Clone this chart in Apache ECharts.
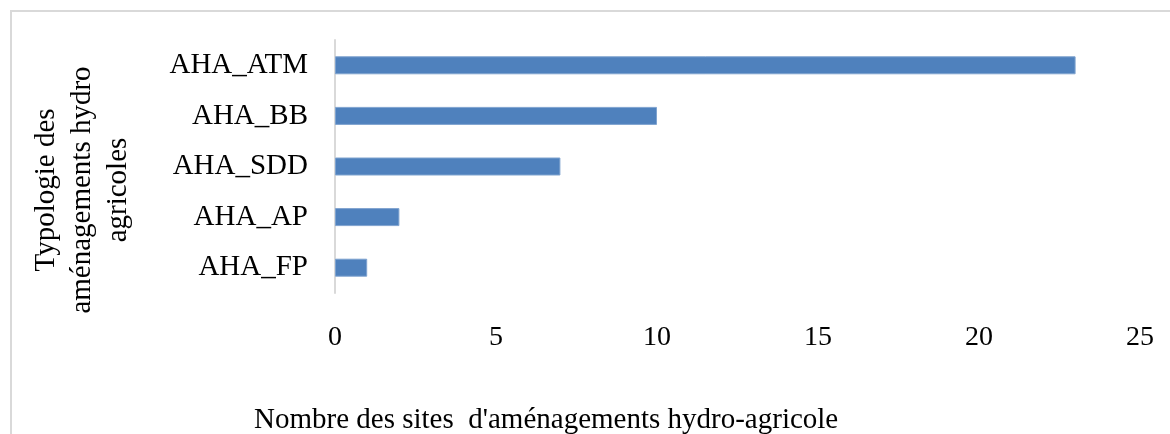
<html lang="fr">
<head>
    <meta http-equiv="Content-Type" content="text/html; charset=utf-8" />
    <title>Typologie des aménagements hydro agricoles</title>
    <script src="https://cdn.jsdelivr.net/npm/echarts@6/dist/echarts.min.js"></script>
</head>
<body style="padding:0px;margin:0px;overflow:hidden;background:#fff;">

<div id="main" style="width:1170px;height:434px;"></div>

<script type="text/javascript">
    // donnees
    var categories = ['AHA_FP', 'AHA_AP', 'AHA_SDD', 'AHA_BB', 'AHA_ATM'];
    var nbSites = [1, 2, 7, 10, 23];
    var xTicks = [0, 5, 10, 15, 20, 25];

    var police = 'Liberation Serif, Times New Roman, serif';

    var myChart = echarts.init(document.getElementById('main'));

    var option = {
        backgroundColor: '#fff',
        animation: false,
        grid: {
            left: 335,
            right: 30,
            top: 40,
            bottom: 141
        },
        xAxis: {
            type: 'value',
            min: xTicks[0],
            max: xTicks[xTicks.length - 1],
            interval: xTicks[1] - xTicks[0],
            axisLine: {show: false},
            axisTick: {show: false},
            splitLine: {show: false},
            axisLabel: {
                margin: 31,
                color: '#000',
                fontFamily: police,
                fontSize: 28
            }
        },
        yAxis: {
            type: 'category',
            data: categories,
            axisLine: {show: true, lineStyle: {color: '#d9d9d9', width: 2}},
            axisTick: {show: false},
            axisLabel: {
                margin: 27,
                color: '#000',
                fontFamily: police,
                fontSize: 29
            }
        },
        series: [
            {
                name: 'Nombre des sites',
                type: 'bar',
                data: nbSites,
                barWidth: 18,
                itemStyle: {
                    color: '#4f81bd',
                    borderColor: '#7fa3cf',
                    borderWidth: 1
                }
            }
        ],
        graphic: [
            {
                type: 'rect',
                silent: true,
                shape: {x: 11, y: 11, width: 1300, height: 600},
                style: {fill: 'none', stroke: '#d9d9d9', lineWidth: 2}
            },
            {
                type: 'text',
                x: 82,
                y: 190,
                rotation: Math.PI / 2,
                style: {
                    text: 'Typologie des\naménagements hydro\nagricoles',
                    align: 'center',
                    verticalAlign: 'middle',
                    lineHeight: 36,
                    fill: '#000',
                    font: '29px ' + police
                }
            },
            {
                type: 'text',
                x: 254,
                y: 420,
                style: {
                    text: "Nombre des sites  d'aménagements hydro-agricole",
                    align: 'left',
                    verticalAlign: 'middle',
                    fill: '#000',
                    font: '29px ' + police
                }
            }
        ]
    };

    myChart.setOption(option);
</script>
</body>
</html>
